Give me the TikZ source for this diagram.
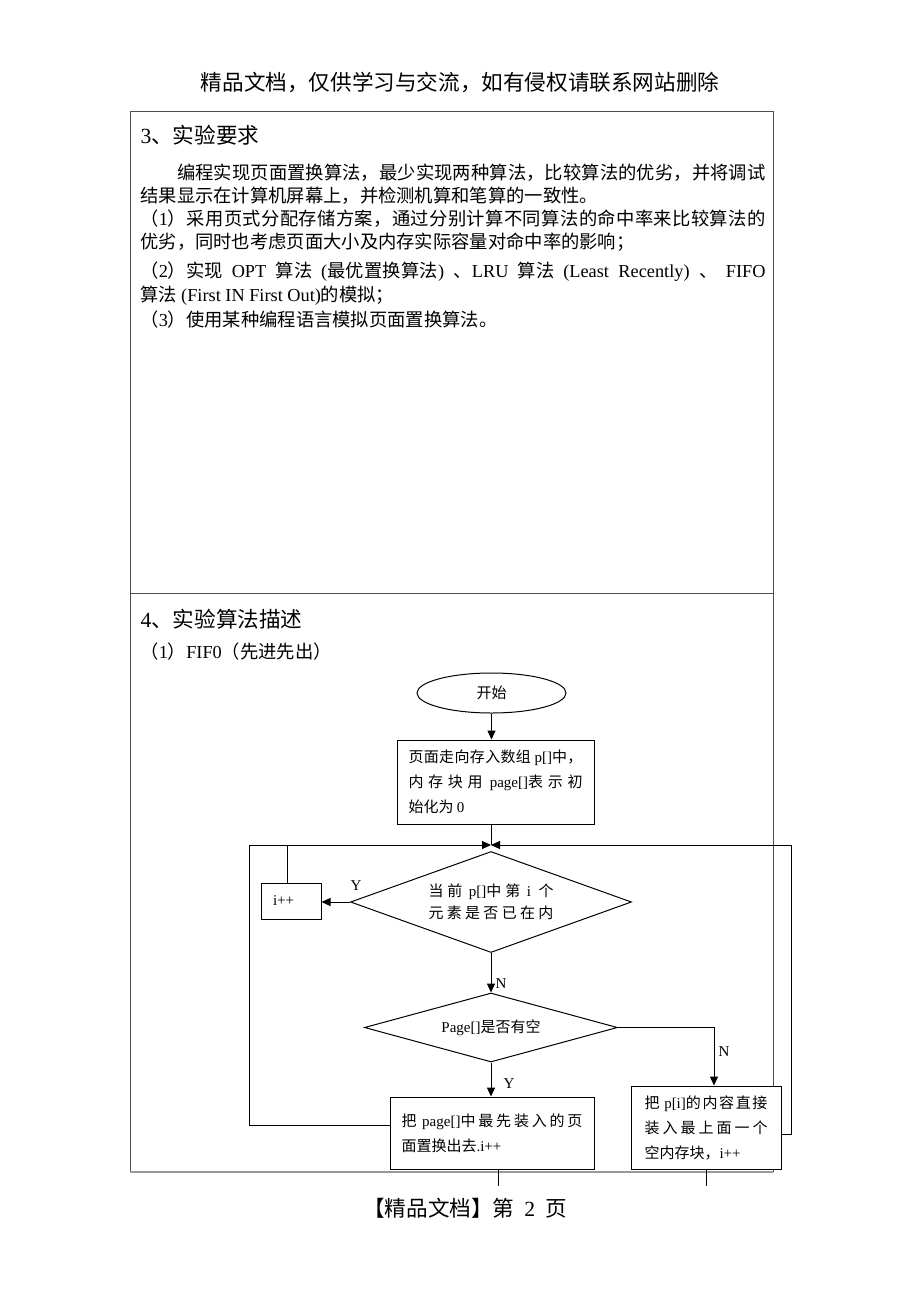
\documentclass[tikz,border=0pt]{standalone}
\usepackage{fontspec}
\setmainfont{Liberation Serif}
\newfontfamily\cjk{Noto Sans CJK SC}
\usetikzlibrary{shapes.geometric,arrows.meta}

% Han characters and full-width punctuation switch to the CJK font
\XeTeXinterchartokenstate=1
\newXeTeXintercharclass\hanclass
\newcount\hanc
\newdimen\hanstretch \hanstretch=1pt
\def\hanrange#1#2{\hanc=#1\relax
  \loop\XeTeXcharclass\hanc=\hanclass
  \ifnum\hanc<#2\relax\advance\hanc by 1\repeat}
\hanrange{"3000}{"303F}
\hanrange{"4E00}{"9FFF}
\hanrange{"FF00}{"FFEF}
\XeTeXinterchartoks 0 \hanclass = {\cjk}
\XeTeXinterchartoks 4095 \hanclass = {\cjk}
\XeTeXinterchartoks \hanclass 0 = {\rmfamily}
\XeTeXinterchartoks 4095 0 = {\rmfamily}
\XeTeXinterchartoks \hanclass \hanclass = {\hskip 0pt plus \hanstretch\relax}

\begin{document}
\begin{tikzpicture}[x=0.5pt, y=-0.5pt, line width=0.5pt,
    >={Triangle[length=4.5pt, width=4pt]},
    every node/.style={inner sep=0pt},
    head/.style={font=\fontsize{10.8}{13}\selectfont},
    body/.style={anchor=west, font=\fontsize{9.15}{11}\selectfont},
    small/.style={font=\fontsize{7.5}{12.5}\selectfont},
    box/.style={small, draw, fill=white, align=justify},
    dec/.style={draw, fill=white, diamond, align=center, font=\fontsize{7.5}{11}\selectfont},
    lbl/.style={small, inner sep=1pt}]
    \useasboundingbox (0,0) rectangle (920,1302);

    % Page text
    \node (hdr) [head] at (460,82) {精品文档，仅供学习与交流，如有侵权请联系网站删除};
    \node (ftr) [head] at (465,1208) {【精品文档】第\hskip 5pt 2\hskip 5pt 页};

    % Table
    \draw[black!70] (130,1172) -- (130,111) -- (773,111) -- (773,1172);
    \draw[black!70] (130,593) -- (773,593);
    \draw[black!40, line width=1pt] (130,1172) -- (773,1172);

    % Section 3
    \node (t3) [head, anchor=west] at (140,135) {3、实验要求};
    \node (b1) [body] at (140,173) {\hbox to 312.5pt{\hskip 18.3pt 编程实现页面置换算法，最少实现两种算法，比较算法的优劣，并将调试}};
    \node (b2) [body] at (140,196) {结果显示在计算机屏幕上，并检测机算和笔算的一致性。};
    \node (b3) [body] at (140,219) {\hbox to 312.5pt{（1）采用页式分配存储方案，通过分别计算不同算法的命中率来比较算法的}};
    \node (b4) [body] at (140,242) {优劣，同时也考虑页面大小及内存实际容量对命中率的影响；};
    \node (b5) [body] at (140,272) {\hanstretch=0.05pt\hbox to 312.5pt{（2）实现 OPT 算法 (最优置换算法) 、LRU 算法 (Least Recently) 、 FIFO}};
    \node (b6) [body] at (140,296) {算法 (First IN First Out)的模拟；};
    \node (b7) [body] at (140,320) {（3）使用某种编程语言模拟页面置换算法。};

    % Section 4
    \node (t4) [head, anchor=west] at (140,619) {4、实验算法描述};
    \node (sub) [body] at (140,652) {（1）FIF0（先进先出）};

    % Flowchart nodes
    \node (start) [small, draw, ellipse, minimum width=74.5pt, minimum height=20pt] at (491.5,693) {开始};
    \node (init) [box, minimum width=98.5pt, minimum height=42pt, text width=87pt] at (495.5,782)
        {页面走向存入数组 p[]中，\linebreak 内存块用 page[]表示初\linebreak 始化为 0};
    \node (dec1) [dec, minimum width=140.5pt, minimum height=50.5pt, aspect=2.78] at (491,902)
        {\hbox to 62.5pt{当前 p[]中第 i 个}\\\hbox to 62.5pt{元素是否已在内}};
    \node (ipp) [small, draw, fill=white, minimum width=30pt, minimum height=18pt] at (291,901) {\makebox[18pt][l]{i++}};
    \node (dec2) [dec, minimum width=126.5pt, minimum height=34.5pt, aspect=3.67] at (491,1027.5) {Page[]是否有空};
    \node (box2) [box, minimum width=102pt, minimum height=36pt, text width=90.5pt] at (492,1133)
        {把 page[]中最先装入的页\linebreak 面置换出去.i++};
    \node (box3) [box, minimum width=75pt, minimum height=41.5pt, text width=61.5pt] at (706,1127.5)
        {把 p[i]的内容直接\linebreak 装入最上面一个\linebreak 空内存块，i++};
    \node (y1) [lbl] at (356,886) {Y};

    % Loop corners and cut ends
    \coordinate (join) at (491,845);
    \coordinate (lft) at (249,845);
    \coordinate (rgt) at (791,845);
    \coordinate (cut2) at (498,1186);
    \coordinate (cut3) at (706,1186);

    % Arrows
    \draw[->] (start) -- (start |- init.north);
    \draw (join |- init.south) -- (join);
    \draw[->] ([yshift=4pt]box2.west) -| (lft) -- (join);
    \draw[->] ([yshift=-3.5pt]box3.east) -| (rgt) -- (join);
    \draw ([xshift=-2pt]ipp.north) -- ([xshift=-2pt]ipp.north |- join);
    \draw[->] (dec1.west) -- (dec1.west -| ipp.east);
    \draw[->] (dec1.south) -- (dec2.north) node (n1) [lbl, pos=0.78, right=1pt] {N};
    \draw[->] (dec2.south) -- (dec2.south |- box2.north) node (y2) [lbl, pos=0.62, right=5pt] {Y};
    \draw[->] (dec2.east) -| ([xshift=4pt]box3.north) node (n2) [lbl, pos=0.71, right=1pt] {N};
    \draw (cut2 |- box2.south) -- (cut2);
    \draw (box3.south) -- (cut3);

\end{tikzpicture}
\end{document}
